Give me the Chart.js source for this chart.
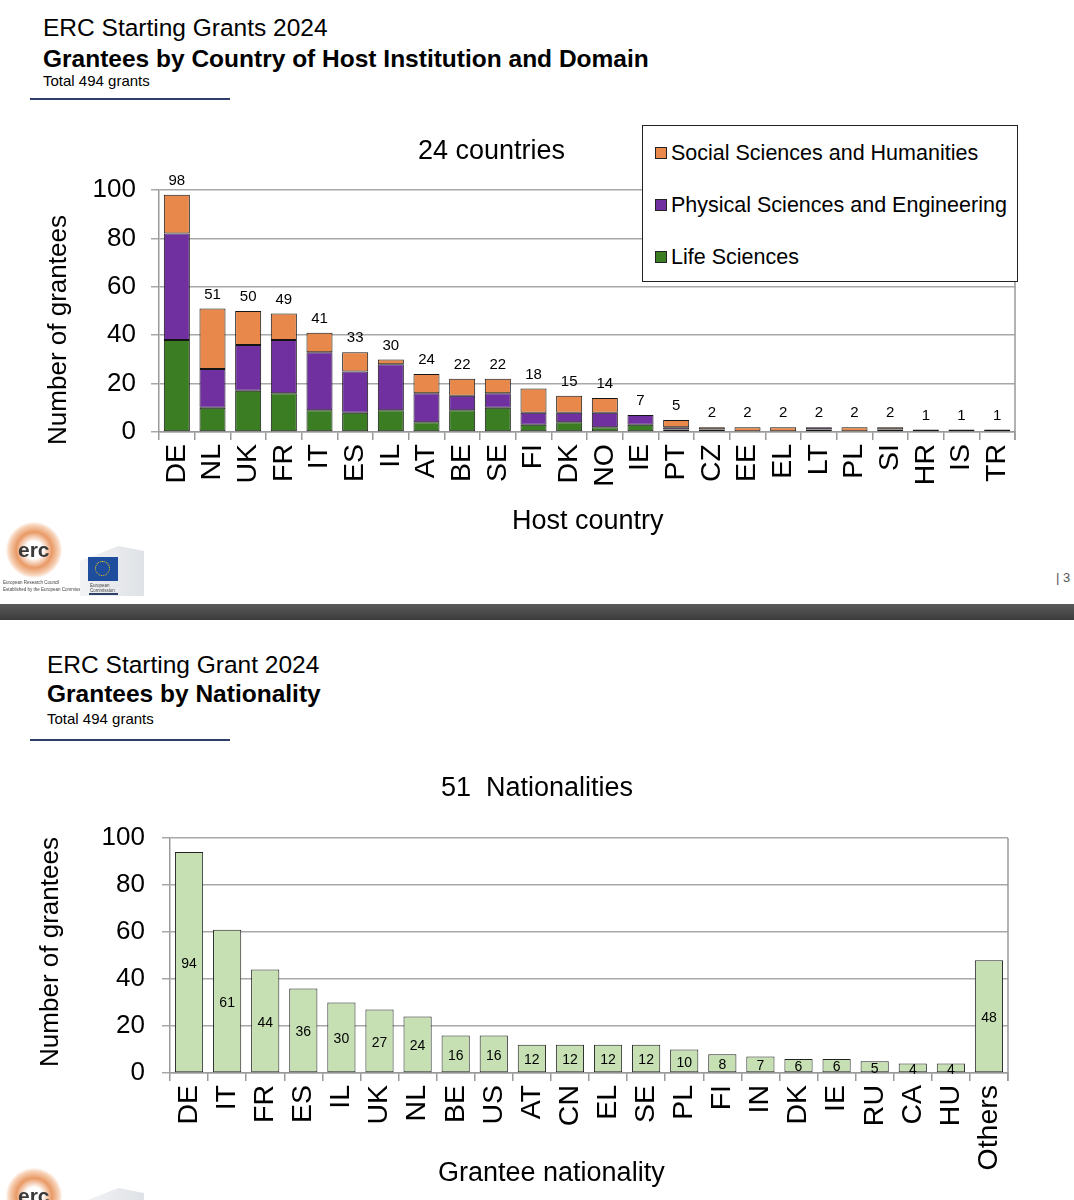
<!DOCTYPE html>
<html>
<head>
<meta charset="utf-8">
<script src="https://cdn.jsdelivr.net/npm/chart.js@4.4.1/dist/chart.umd.min.js"></script>
<style>
  body { margin: 0; width: 1074px; height: 1200px; position: relative; overflow: hidden; background: #fff; font-family: "Liberation Sans", Arial, sans-serif; color: #000; }
  .abs { position: absolute; white-space: pre; line-height: 1; }
  .h1 { font-size: 24.5px; }
  .h2 { font-size: 24.5px; font-weight: bold; }
  .h3 { font-size: 15px; }
  .rule { position: absolute; height: 1.5px; background: #2e4068; }
  .ctitle { font-size: 27px; }
  .ytitle { position: absolute; width: 300px; height: 30px; line-height: 30px; text-align: center; font-size: 26px; transform: rotate(-90deg); }
  .chartbox { position: absolute; left: 0; width: 1074px; }
  .legend { position: absolute; left: 642px; top: 125px; width: 374px; height: 155px; border: 1px solid #222; background: #fff; }
  .legend .item { position: absolute; left: 12px; height: 24px; line-height: 24px; font-size: 21.5px; white-space: pre; }
  .legend .sw { display: inline-block; width: 10px; height: 10px; border: 1px solid #222; margin-right: 4px; vertical-align: 1px; }
  .band { position: absolute; left: 0; top: 604px; width: 1074px; height: 16px; background: linear-gradient(#5a5a5a, #3c3c3c); }
  .erc { position: absolute; width: 56px; height: 56px; border-radius: 50%;
         background: radial-gradient(circle, rgba(255,255,255,1) 22%, rgba(226,120,50,0.75) 45%, rgba(236,150,90,0.45) 62%, rgba(255,255,255,0) 72%); }
  .erctxt { position: absolute; font-size: 21px; font-weight: bold; color: #3a3a3a; }
  .tiny { position: absolute; font-size: 4.5px; color: #444; white-space: pre; }
  .eu { position: absolute; width: 64px; height: 50px; background: linear-gradient(90deg, #f2f3f5, #dfe2e6); clip-path: polygon(0 30%, 60% 0, 100% 10%, 100% 100%, 0 100%); }
  .flag { position: absolute; width: 30px; height: 24px; background: #1f4d9e; }
  .flag div { position: absolute; left: 7px; top: 4px; width: 13px; height: 13px; border: 1.5px dotted #ffd800; border-radius: 50%; }
</style>
</head>
<body>
<!-- slide 1 -->
<div class="abs h1" style="left:43px; top:16px;">ERC Starting Grants 2024</div>
<div class="abs h2" style="left:43px; top:47px;">Grantees by Country of Host Institution and Domain</div>
<div class="abs h3" style="left:43px; top:73px;">Total 494 grants</div>
<div class="rule" style="left:30px; top:98px; width:200px;"></div>

<div class="chartbox" style="top:110px; height:440px;"><canvas id="hostChart" width="1074" height="440"></canvas></div>
<div class="abs ctitle" style="left:418px; top:137px;">24 countries</div>
<div class="legend" id="hostLegend"></div>
<div class="ytitle" style="left:-93px; top:315px;">Number of grantees</div>
<div class="abs ctitle" style="left:512px; top:507px;">Host country</div>

<div class="erc" style="left:6px; top:522px;"></div>
<div class="erctxt" style="left:18px; top:538px;">erc</div>
<div class="tiny" style="left:3px; top:580px;">European Research Council</div>
<div class="tiny" style="left:3px; top:587px;">Established by the European Commission</div>
<div class="eu" style="left:80px; top:546px;"></div>
<div class="flag" style="left:88px; top:557px;"><div></div></div>
<div class="tiny" style="left:90px; top:583px;">European</div>
<div class="tiny" style="left:90px; top:588px;">Commission</div>
<div class="rule" style="left:89px; top:593px; width:29px;"></div>
<div class="abs" style="left:1056px; top:571px; font-size:13px; color:#555;">| 3</div>

<div class="band"></div>

<!-- slide 2 -->
<div class="abs h1" style="left:47px; top:653px;">ERC Starting Grant 2024</div>
<div class="abs h2" style="left:47px; top:682px;">Grantees by Nationality</div>
<div class="abs h3" style="left:47px; top:711px;">Total 494 grants</div>
<div class="rule" style="left:30px; top:739px; width:200px;"></div>

<div class="chartbox" style="top:800px; height:400px;"><canvas id="natChart" width="1074" height="400"></canvas></div>
<div class="abs ctitle" style="left:441px; top:774px;">51  Nationalities</div>
<div class="ytitle" style="left:-101px; top:937px;">Number of grantees</div>
<div class="abs ctitle" style="left:438px; top:1159px;">Grantee nationality</div>

<div class="erc" style="left:6px; top:1168px;"></div>
<div class="erctxt" style="left:18px; top:1184px;">erc</div>
<div class="eu" style="left:80px; top:1188px;"></div>

<script>
const hostCountries = ['DE', 'NL', 'UK', 'FR', 'IT', 'ES', 'IL', 'AT', 'BE', 'SE', 'FI', 'DK', 'NO', 'IE', 'PT', 'CZ', 'EE', 'EL', 'LT', 'PL', 'SI', 'HR', 'IS', 'TR'];
const lifeSciences = [38, 10, 17, 16, 9, 8, 9, 4, 9, 10, 3, 4, 2, 3, 1, 0, 0, 0, 1, 0, 1, 1, 0, 0];
const physicalSciences = [44, 16, 19, 22, 24, 17, 19, 12, 6, 6, 5, 4, 6, 4, 1, 1, 0, 0, 1, 0, 0, 0, 1, 1];
const socialSciences = [16, 25, 14, 11, 8, 8, 2, 8, 7, 6, 10, 7, 6, 0, 3, 1, 2, 2, 0, 2, 1, 0, 0, 0];

const nationalities = ['DE', 'IT', 'FR', 'ES', 'IL', 'UK', 'NL', 'BE', 'US', 'AT', 'CN', 'EL', 'SE', 'PL', 'FI', 'IN', 'DK', 'IE', 'RU', 'CA', 'HU', 'Others'];
const granteeCounts = [94, 61, 44, 36, 30, 27, 24, 16, 16, 12, 12, 12, 12, 10, 8, 7, 6, 6, 5, 4, 4, 48];

const yTicks = [0, 20, 40, 60, 80, 100];

const FONT = '"Liberation Sans", Arial, sans-serif';
const GRID = '#a8a8a8';
const AXIS = '#999999';

// totals above the stacks
const stackTotals = {
    id: 'stackTotals',
    afterDatasetsDraw(chart) {
        const ctx = chart.ctx;
        const last = chart.getDatasetMeta(chart.data.datasets.length - 1);
        ctx.save();
        ctx.font = '15px ' + FONT;
        ctx.fillStyle = '#000';
        ctx.textAlign = 'center';
        ctx.textBaseline = 'middle';
        last.data.forEach((bar, i) => {
            const total = chart.data.datasets.reduce((s, ds) => s + ds.data[i], 0);
            ctx.fillText(String(total), bar.x, bar.y - 14);
        });
        ctx.restore();
    }
};

// value in the middle of each bar
const barValues = {
    id: 'barValues',
    afterDatasetsDraw(chart) {
        const ctx = chart.ctx;
        const meta = chart.getDatasetMeta(0);
        const data = chart.data.datasets[0].data;
        ctx.save();
        ctx.font = '14px ' + FONT;
        ctx.fillStyle = '#000';
        ctx.textAlign = 'center';
        ctx.textBaseline = 'middle';
        meta.data.forEach((bar, i) => {
            ctx.fillText(String(data[i]), bar.x, (bar.y + bar.base) / 2 + 2);
        });
        ctx.restore();
    }
};

// right edge of the plot frame
const plotFrame = {
    id: 'plotFrame',
    beforeDatasetsDraw(chart) {
        const { ctx, chartArea } = chart;
        ctx.save();
        ctx.strokeStyle = AXIS;
        ctx.lineWidth = 1.5;
        ctx.beginPath();
        ctx.moveTo(chartArea.right, chartArea.top);
        ctx.lineTo(chartArea.right, chartArea.bottom + 8);
        ctx.stroke();
        ctx.restore();
    }
};

function yScale(width, padding) {
    return {
        min: 0,
        max: 100,
        afterBuildTicks: s => { s.ticks = yTicks.map(v => ({ value: v })); },
        ticks: { color: '#000', padding: padding, font: { family: FONT, size: 26 } },
        grid: { color: GRID, lineWidth: 1.5, tickLength: 8 },
        border: { color: AXIS, width: 1.5 },
        afterFit: s => { s.width = width; }
    };
}

function xScale(height, padding) {
    return {
        grid: { drawOnChartArea: false, offset: true, tickLength: 8, color: AXIS, lineWidth: 1.5 },
        border: { color: AXIS, width: 1.5 },
        ticks: { color: '#000', autoSkip: false, minRotation: 90, maxRotation: 90, padding: padding, font: { family: FONT, size: 28.5 } },
        afterFit: s => { s.height = height; }
    };
}

const domainDatasets = [
    { label: 'Life Sciences', data: lifeSciences, backgroundColor: '#3b7d23' },
    { label: 'Physical Sciences and Engineering', data: physicalSciences, backgroundColor: '#7030a0' },
    { label: 'Social Sciences and Humanities', data: socialSciences, backgroundColor: '#e8894b' }
].map(ds => ({
    ...ds,
    borderColor: '#151515',
    borderWidth: c => (c.raw ? 1 : 0),
    borderSkipped: false,
    categoryPercentage: 1,
    barPercentage: 0.73
}));

const hostX = xScale(118, 4);
hostX.stacked = true;
const hostY = yScale(159, 15);
hostY.stacked = true;

new Chart(document.getElementById('hostChart'), {
    type: 'bar',
    data: { labels: hostCountries, datasets: domainDatasets },
    options: {
        responsive: false,
        animation: false,
        devicePixelRatio: 1,
        layout: { padding: { top: 80, right: 59, left: 0, bottom: 0 } },
        plugins: { legend: { display: false }, tooltip: { enabled: false } },
        scales: { x: hostX, y: hostY }
    },
    plugins: [plotFrame, stackTotals]
});

// legend, top entry first
const legendBox = document.getElementById('hostLegend');
domainDatasets.slice().reverse().forEach((ds, i) => {
    const item = document.createElement('div');
    item.className = 'item';
    item.style.top = (15 + i * 52) + 'px';
    item.innerHTML = '<span class="sw" style="background:' + ds.backgroundColor + '"></span>' + ds.label;
    legendBox.appendChild(item);
});

new Chart(document.getElementById('natChart'), {
    type: 'bar',
    data: {
        labels: nationalities,
        datasets: [{
            label: 'Grantees',
            data: granteeCounts,
            backgroundColor: '#c6e0b4',
            borderColor: '#222',
            borderWidth: 1,
            borderSkipped: false,
            categoryPercentage: 1,
            barPercentage: 0.74
        }]
    },
    options: {
        responsive: false,
        animation: false,
        devicePixelRatio: 1,
        layout: { padding: { top: 38, right: 66, left: 0, bottom: 0 } },
        plugins: { legend: { display: false }, tooltip: { enabled: false } },
        scales: { x: xScale(127, 4), y: yScale(170, 17) }
    },
    plugins: [plotFrame, barValues]
});
</script>
</body>
</html>
